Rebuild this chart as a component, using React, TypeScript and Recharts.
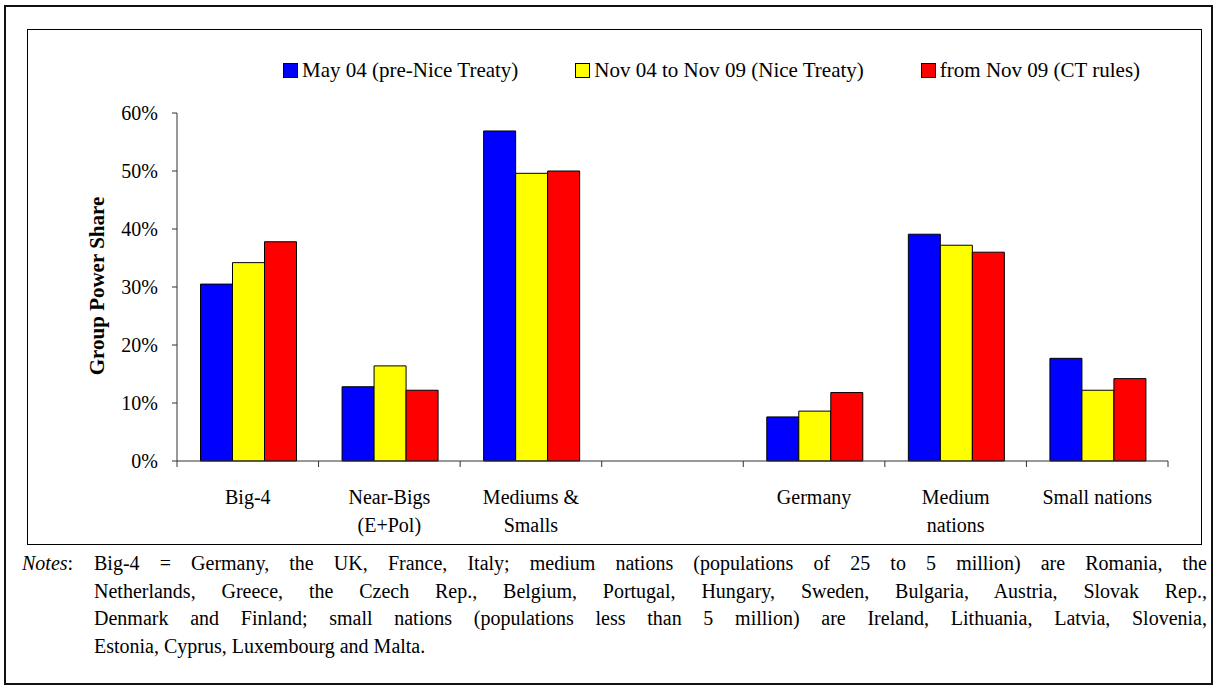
import React from "react";
import { BarChart, Bar, XAxis, YAxis } from "recharts";

// categories (the blank one is the spacer between the two groups)
const categories = [
  "Big-4",
  "Near-Bigs\n(E+Pol)",
  "Mediums &\nSmalls",
  " ",
  "Germany",
  "Medium\nnations",
  "Small nations",
];

const may04 = [30.5, 12.8, 56.9, null, 7.6, 39.1, 17.7];
const nice = [34.2, 16.4, 49.6, null, 8.6, 37.2, 12.2];
const ctRules = [37.8, 12.2, 50.0, null, 11.8, 36.0, 14.2];

const seriesNames = [
  "May 04 (pre-Nice Treaty)",
  "Nov 04 to Nov 09 (Nice Treaty)",
  "from Nov 09 (CT rules)",
];
const seriesColors = ["#0000ff", "#ffff00", "#ff0000"];

const yTicks = [0, 10, 20, 30, 40, 50, 60];

const noteLines = [
  "Big-4 = Germany, the UK, France, Italy; medium nations (populations of 25 to 5 million) are Romania, the",
  "Netherlands, Greece, the Czech Rep., Belgium, Portugal, Hungary, Sweden, Bulgaria, Austria, Slovak Rep.,",
  "Denmark and Finland; small nations (populations less than 5 million) are Ireland, Lithuania, Latvia, Slovenia,",
  "Estonia, Cyprus, Luxembourg and Malta.",
];

const FONT = '"Liberation Serif", "Times New Roman", serif';

const data = categories.map((c, i) => ({
  name: c,
  may04: may04[i],
  nice: nice[i],
  ct: ctRules[i],
}));

// x tick: label lines under the centre, tick marks on the category boundaries
function CategoryTick(props: any) {
  const { x, y, payload, index, visibleTicksCount } = props;
  const half = payload.offset ?? 0;
  const lines = String(payload.value).split("\n");
  return (
    <g>
      <line x1={x - half} x2={x - half} y1={y} y2={y + 6} stroke="#333" />
      {index === visibleTicksCount - 1 && (
        <line x1={x + half} x2={x + half} y1={y} y2={y + 6} stroke="#333" />
      )}
      <text x={x} y={y + 43} textAnchor="middle" fontSize={20} fontFamily={FONT} fill="#000">
        {lines.map((l, i) => (
          <tspan key={i} x={x} dy={i === 0 ? 0 : 28}>
            {l}
          </tspan>
        ))}
      </text>
    </g>
  );
}

export default function App() {
  return (
    <div
      style={{
        position: "absolute",
        left: 0,
        top: 0,
        width: 1213,
        height: 686,
        background: "#fff",
        fontFamily: FONT,
        color: "#000",
      }}
    >
      <div
        style={{
          position: "absolute",
          left: 4,
          top: 5,
          width: 1209,
          height: 680,
          border: "2px solid #111",
          boxSizing: "border-box",
        }}
      />
      <div
        style={{
          position: "absolute",
          left: 27,
          top: 29,
          width: 1175,
          height: 516,
          border: "1px solid #000",
          boxSizing: "border-box",
        }}
      />

      {/* legend */}
      <div
        style={{
          position: "absolute",
          left: 283,
          top: 57,
          display: "flex",
          gap: 57,
          fontSize: 21,
          lineHeight: "26px",
          whiteSpace: "nowrap",
        }}
      >
        {seriesNames.map((n, i) => (
          <div key={n} style={{ display: "flex", alignItems: "center" }}>
            <span
              style={{
                display: "inline-block",
                width: 15,
                height: 15,
                background: seriesColors[i],
                border: "1px solid #000",
                boxSizing: "border-box",
                marginRight: 4,
              }}
            />
            <span>{n}</span>
          </div>
        ))}
      </div>

      <div
        style={{
          position: "absolute",
          left: 97,
          top: 286,
          transform: "translate(-50%, -50%) rotate(-90deg)",
          fontWeight: "bold",
          fontSize: 21,
          whiteSpace: "nowrap",
        }}
      >
        Group Power Share
      </div>

      <div style={{ position: "absolute", left: 0, top: 0 }}>
        <BarChart
          width={1213}
          height={686}
          data={data}
          margin={{ top: 113, right: 45, bottom: 165, left: 0 }}
          barCategoryGap="16.6%"
          barGap={0}
        >
          <XAxis
            dataKey="name"
            height={60}
            interval={0}
            tickSize={0}
            tickMargin={0}
            tickLine={false}
            axisLine={{ stroke: "#333" }}
            tick={<CategoryTick />}
          />
          <YAxis
            width={177}
            domain={[0, 60]}
            ticks={yTicks}
            tickFormatter={(v) => `${v}%`}
            tickSize={5}
            tickMargin={14}
            axisLine={{ stroke: "#333" }}
            tickLine={{ stroke: "#333" }}
            tick={{ fontSize: 20, fontFamily: FONT, fill: "#000" }}
          />
          <Bar dataKey="may04" name={seriesNames[0]} fill={seriesColors[0]} stroke="#000" strokeWidth={1} isAnimationActive={false} />
          <Bar dataKey="nice" name={seriesNames[1]} fill={seriesColors[1]} stroke="#000" strokeWidth={1} isAnimationActive={false} />
          <Bar dataKey="ct" name={seriesNames[2]} fill={seriesColors[2]} stroke="#000" strokeWidth={1} isAnimationActive={false} />
        </BarChart>
      </div>

      {/* notes */}
      <div style={{ position: "absolute", left: 22, top: 550, fontSize: 20, lineHeight: "27.5px" }}>
        <i>Notes</i>:
      </div>
      <div style={{ position: "absolute", left: 94, top: 550, width: 1113, fontSize: 20, lineHeight: "27.5px" }}>
        {noteLines.map((l, i) => (
          <div
            key={i}
            style={{
              textAlign: "justify",
              textAlignLast: i < noteLines.length - 1 ? "justify" : "left",
              whiteSpace: "nowrap",
            }}
          >
            {l}
          </div>
        ))}
      </div>
    </div>
  );
}
